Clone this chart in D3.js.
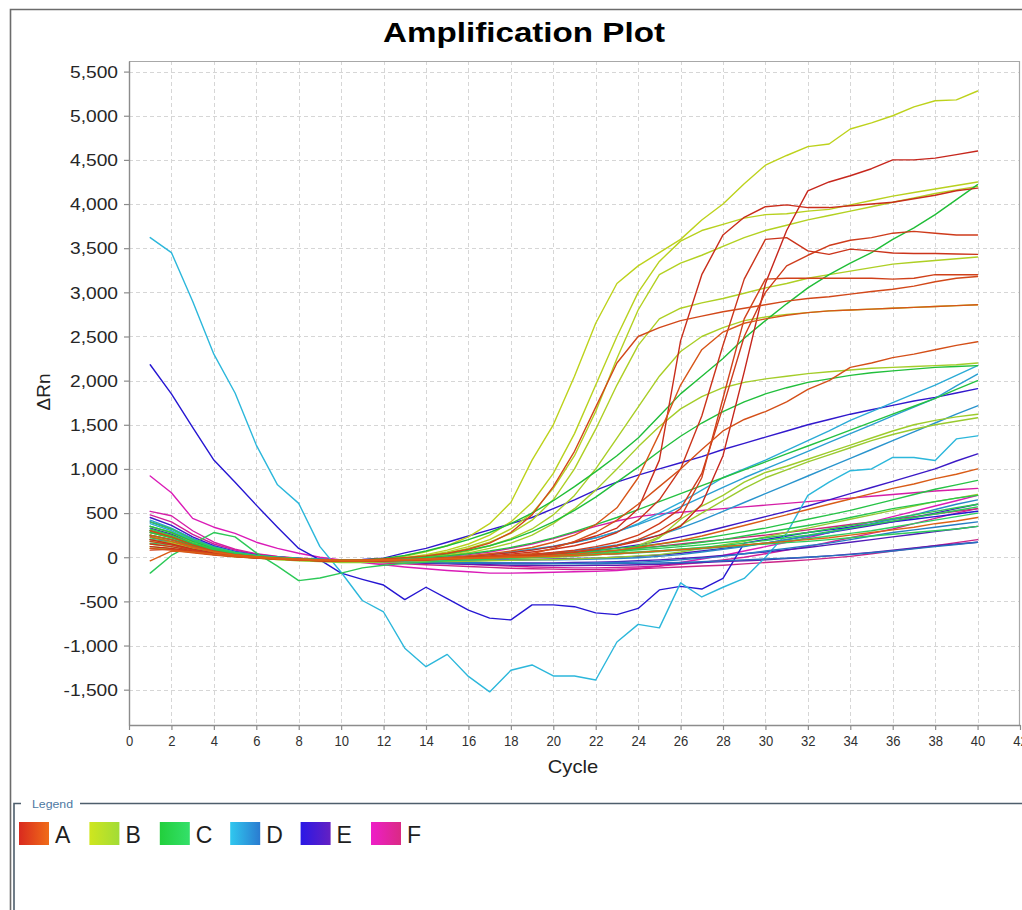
<!DOCTYPE html>
<html>
<head>
<meta charset="utf-8">
<script src="https://cdn.jsdelivr.net/npm/d3@7"></script>
<style>
  body { margin: 0; background: #fff; }
  svg { display: block; font-family: "Liberation Sans", Arial, sans-serif; }
</style>
</head>
<body>
<svg id="chart" width="1022" height="910"></svg>
<script>
// ---------------- data ----------------
const cycles = d3.range(1, 41);          // cycle numbers 1..40
const xTicks = d3.range(0, 43, 2);       // 0,2,...,42
const yTicks = d3.range(-1500, 5501, 500);
const groupNames = ["A", "B", "C", "D", "E", "F"];

// ΔRn per cycle (1..40), one row per well
const wellsA = [
  [120,100,60,30,10,-10,-20,-30,-40,-45,-45,-40, -35,-30,-20,-10,0,10,20,40,60,90,130,180, 250,350,600,1150,2100,3100,3700,4150,4250,4320,4400,4500,4500,4520,4560,4600],
  [200,150,90,50,20,0,-15,-25,-35,-40,-40,-35, -30,-20,-5,10,30,50,80,120,170,240,330,550, 1100,2450,3200,3650,3850,3970,3990,3960,3960,3980,4000,4020,4060,4100,4150,4180],
  [150,120,70,35,10,-5,-20,-30,-40,-45,-45,-40, -35,-25,-15,0,15,35,60,90,130,190,280,420, 650,1000,1600,2400,3150,3600,3620,3470,3430,3490,3470,3445,3440,3440,3435,3430],
  [180,140,80,40,15,0,-15,-25,-35,-40,-40,-35, -30,-25,-15,-5,5,20,35,55,80,120,170,250, 380,550,950,1700,2500,3000,3300,3420,3530,3590,3620,3670,3690,3670,3650,3650],
  [80,90,60,30,10,-5,-20,-30,-40,-45,-45,-40, -35,-30,-20,-10,0,10,25,40,60,90,130,200, 300,450,900,1800,2700,3150,3160,3160,3160,3160,3160,3150,3160,3200,3200,3200],
  [300,230,140,70,30,5,-10,-20,-30,-35,-30,-20, -5,15,45,90,160,280,480,800,1200,1700,2200,2500, 2600,2680,2730,2780,2820,2860,2900,2930,2950,2980,3010,3035,3070,3120,3160,3180],
  [100,80,50,25,5,-10,-20,-30,-35,-40,-40,-35, -30,-25,-15,-5,10,25,40,100,180,280,420,600, 800,1000,1220,1430,1560,1650,1760,1900,2000,2150,2200,2260,2300,2350,2400,2440],
  [250,200,120,60,25,0,-15,-25,-35,-40,-40,-35, -30,-20,-5,15,40,70,110,170,250,370,560,900, 1400,1950,2350,2550,2650,2700,2740,2770,2790,2800,2810,2820,2830,2840,2850,2860],
  [-40,70,60,35,10,-5,-20,-30,-35,-40,-40,-35, -30,-25,-20,-15,-10,0,10,20,35,55,80,110, 150,190,240,300,360,420,480,540,600,660,720,780,830,890,940,1000],
  [230,180,110,60,25,5,-10,-20,-30,-35,-35,-30, -25,-20,-15,-10,-5,0,5,10,20,30,40,55, 70,85,100,120,140,160,180,200,220,250,280,310,340,380,410,450]
];
const wellsB = [
  [250,170,90,40,10,-10,-25,-35,-40,-40,-35,-20, 10,60,130,230,380,620,1100,1500,2050,2650,3100,3300, 3450,3600,3820,4000,4230,4440,4550,4650,4680,4850,4920,5000,5100,5170,5180,5280],
  [350,280,170,90,40,10,-10,-25,-35,-40,-35,-25, -5,30,80,150,250,400,620,950,1400,1950,2500,3000, 3350,3580,3700,3770,3840,3880,3890,3920,3940,3990,4040,4090,4130,4170,4210,4250],
  [300,240,150,80,35,5,-15,-25,-35,-40,-35,-25, -10,20,60,120,200,320,500,780,1150,1650,2250,2800, 3200,3330,3420,3520,3620,3700,3760,3820,3870,3920,3970,4020,4070,4120,4160,4200],
  [280,220,140,75,30,5,-15,-25,-35,-40,-35,-25, -10,15,50,100,170,270,420,650,1000,1450,1950,2400, 2700,2820,2880,2930,2990,3050,3100,3160,3200,3240,3280,3320,3340,3360,3380,3400],
  [200,160,100,55,20,0,-15,-25,-35,-40,-40,-30, -20,0,30,70,130,210,320,480,700,1000,1350,1700, 2050,2330,2500,2600,2680,2720,2750,2770,2790,2800,2810,2820,2830,2840,2850,2860],
  [180,150,90,50,20,0,-15,-25,-35,-40,-40,-30, -20,-5,20,50,100,160,250,380,550,760,1000,1250, 1480,1680,1820,1920,1980,2020,2050,2080,2100,2120,2140,2150,2160,2170,2180,2200],
  [150,120,80,40,15,-5,-20,-30,-40,-45,-45,-40, -35,-30,-25,-20,-15,-10,-5,0,10,25,50,100, 220,430,580,700,850,960,1030,1110,1190,1270,1350,1430,1500,1550,1590,1620],
  [120,100,70,35,10,-5,-20,-30,-40,-45,-45,-40, -35,-30,-25,-20,-15,-10,-5,5,15,35,70,130, 230,360,500,640,780,900,990,1080,1160,1240,1320,1390,1450,1500,1540,1580],
  [100,90,60,30,5,-10,-25,-40,-50,-60,-60,-55, -55,-50,-50,-45,-40,-35,-30,-25,-20,-10,0,15, 30,60,100,140,180,230,280,330,380,430,480,530,580,630,670,710]
];
const wellsC = [
  [300,230,150,90,45,15,-5,-20,-30,-35,-30,-15, 20,70,130,200,280,380,500,640,800,970,1150,1350, 1600,1850,2050,2250,2480,2680,2870,3050,3200,3330,3450,3600,3730,3880,4050,4220],
  [250,200,130,75,35,10,-10,-20,-30,-35,-35,-25, -10,10,40,80,130,200,290,400,530,680,850,1020, 1200,1370,1520,1650,1760,1850,1920,1980,2020,2060,2090,2110,2130,2150,2160,2170],
  [350,280,180,100,50,15,-5,-20,-30,-35,-35,-30, -20,-5,15,40,70,110,160,220,290,370,450,540, 630,720,810,900,990,1080,1170,1260,1350,1440,1530,1620,1710,1800,1900,2000],
  [280,220,140,80,40,10,-10,-20,-30,-35,-35,-30, -25,-20,-10,0,10,20,30,45,60,80,100,125, 150,180,210,250,290,330,380,430,480,530,590,650,710,770,820,870],
  [220,180,120,70,35,10,-10,-20,-30,-35,-35,-30, -25,-20,-15,-5,5,15,25,35,50,65,80,100, 120,140,170,200,240,280,320,360,400,450,500,550,590,630,670,700],
  [320,250,160,90,45,15,-5,-20,-30,-35,-35,-30, -25,-20,-15,-10,0,10,20,30,40,55,70,85, 100,120,140,165,190,220,250,280,320,360,400,440,480,520,560,600],
  [-180,20,150,280,230,50,-100,-265,-235,-180,-120,-90, -70,-55,-40,-30,-20,-10,0,10,20,30,40,55, 70,90,110,130,160,190,220,250,290,330,370,410,450,490,530,570],
  [400,320,200,110,55,20,0,-15,-25,-30,-30,-25, -20,-15,-10,-5,0,5,10,20,30,40,50,60, 75,90,105,120,135,150,165,180,200,220,240,260,280,300,320,350],
  [160,140,90,50,20,0,-15,-25,-35,-40,-40,-35, -30,-25,-20,-15,-10,-5,0,10,20,30,40,50, 65,80,95,115,135,160,185,210,240,270,300,340,380,420,460,500]
];
const wellsD = [
  [3620,3450,2900,2300,1860,1270,820,610,120,-170,-490,-620, -1030,-1240,-1100,-1350,-1525,-1280,-1220,-1345,-1345,-1390,-960,-760, -800,-290,-450,-340,-240,0,270,700,850,980,1000,1130,1130,1095,1340,1375],
  [380,300,190,110,55,20,0,-15,-25,-30,-30,-25, -20,-15,-5,10,30,55,85,120,165,220,290,380, 500,620,760,900,1000,1100,1210,1320,1430,1550,1650,1750,1850,1950,2060,2170],
  [420,330,210,120,60,20,0,-15,-25,-30,-30,-25, -20,-10,0,15,35,60,90,125,170,220,290,370, 460,570,680,790,900,1000,1100,1200,1300,1400,1500,1600,1700,1800,1940,2075],
  [300,240,160,95,45,15,-5,-20,-30,-35,-35,-30, -25,-20,-15,-5,5,15,30,50,75,105,140,190, 250,330,420,520,620,720,820,920,1020,1120,1220,1320,1420,1520,1620,1715],
  [350,280,180,100,50,15,-5,-20,-30,-35,-40,-40, -40,-40,-40,-40,-35,-35,-30,-30,-25,-20,-15,-5, 10,30,60,90,120,160,200,240,280,330,380,430,480,540,600,650],
  [250,200,130,75,35,10,-10,-20,-30,-35,-40,-45, -50,-55,-60,-60,-65,-65,-70,-70,-70,-65,-60,-55, -45,-30,-10,10,40,70,100,130,160,200,240,280,310,340,370,400],
  [200,170,110,65,30,5,-10,-25,-35,-40,-45,-50, -55,-60,-65,-70,-70,-75,-75,-75,-75,-75,-70,-70, -65,-60,-50,-40,-30,-20,-10,0,15,30,50,70,95,120,145,170]
];
const wellsE = [
  [2180,1850,1470,1100,850,590,340,100,-30,-180,-250,-315, -480,-340,-470,-600,-690,-710,-540,-540,-560,-630,-650,-580, -370,-330,-360,-240,160,200,240,280,310,340,370,400,430,460,490,520],
  [400,320,210,120,60,20,0,-15,-25,-30,-25,-10, 50,100,170,240,310,380,450,550,650,760,850,930, 1000,1070,1140,1220,1290,1360,1430,1500,1560,1620,1670,1720,1770,1810,1860,1910],
  [450,360,230,130,65,25,0,-15,-25,-30,-35,-35, -35,-30,-25,-20,-10,0,15,30,50,75,105,140, 180,230,280,340,400,460,520,580,650,720,790,860,930,1000,1090,1170],
  [330,260,170,95,45,15,-5,-20,-30,-35,-40,-40, -40,-40,-35,-35,-30,-30,-25,-20,-15,-10,0,10, 25,45,70,100,130,160,200,240,280,320,360,400,450,500,550,600],
  [280,230,150,85,40,10,-10,-25,-35,-40,-45,-50, -55,-60,-60,-65,-65,-65,-65,-65,-60,-55,-50,-40, -30,-15,0,20,40,60,85,110,140,170,200,230,260,290,320,350],
  [240,200,130,75,35,10,-10,-25,-35,-45,-50,-55, -60,-70,-75,-80,-85,-90,-90,-95,-95,-90,-90,-85, -80,-70,-60,-50,-40,-30,-15,0,15,35,55,80,105,130,150,170]
];
const wellsF = [
  [920,730,440,340,270,170,100,45,0,-30,-60,-85, -110,-130,-150,-165,-180,-180,-175,-170,-165,-160,-150,-130, -100,-60,-20,20,70,120,170,220,280,340,400,460,520,580,640,700],
  [520,470,300,170,90,40,10,-10,-20,-30,-30,-25, -15,-5,10,30,60,100,150,210,280,350,410,460, 490,510,530,550,570,590,610,630,650,670,690,710,730,750,765,780],
  [480,400,260,150,80,35,5,-15,-25,-35,-40,-45, -50,-60,-70,-80,-90,-100,-110,-115,-120,-120,-115,-110, -100,-80,-60,-30,0,40,80,120,170,220,270,320,380,440,500,550],
  [300,250,160,90,45,15,-5,-20,-35,-45,-55,-65, -75,-85,-95,-105,-115,-125,-130,-135,-140,-140,-135,-130, -120,-110,-100,-90,-75,-60,-45,-30,-10,10,40,70,100,130,165,200],
  [200,170,110,60,25,0,-15,-25,-35,-40,-40,-40, -35,-30,-25,-20,-15,-5,5,20,35,55,75,100, 125,150,175,200,225,250,280,310,340,370,400,430,460,490,520,550]
];

// legend swatch gradient ends per group
const groupGradients = {
  A: ["#d92a1f", "#f06c18"],
  B: ["#cfe61e", "#a2dc36"],
  C: ["#22cf3c", "#34e06a"],
  D: ["#30c8ef", "#2a7bd0"],
  E: ["#2a18e6", "#6420c2"],
  F: ["#ee1ec8", "#da2a84"]
};
const wellsByGroup = { A: wellsA, B: wellsB, C: wellsC, D: wellsD, E: wellsE, F: wellsF };

// ---------------- layout ----------------
const svg = d3.select("#chart");
const plot = { left: 129, right: 1020, top: 61, bottom: 725 };

const x = d3.scaleLinear().domain([0, 42]).range([plot.left, plot.right]);
const y = d3.scaleLinear().domain([-1900, 5620]).range([plot.bottom, plot.top]);

// page frame
svg.append("rect").attr("width", 1022).attr("height", 910).attr("fill", "#fff");
svg.append("path")
  .attr("d", "M10.5,910 V9.5 H1022")
  .attr("fill", "none").attr("stroke", "#6b6b6b").attr("stroke-width", 1.6);

// grid
const grid = svg.append("g").attr("stroke", "#d6d6d6").attr("stroke-width", 1).attr("stroke-dasharray", "4,3");
grid.selectAll(".gy").data(yTicks).join("line")
  .attr("x1", plot.left).attr("x2", plot.right)
  .attr("y1", d => Math.round(y(d)) + 0.5).attr("y2", d => Math.round(y(d)) + 0.5);
grid.selectAll(".gx").data(xTicks.filter(d => d > 0 && d < 42)).join("line")
  .attr("y1", plot.top).attr("y2", plot.bottom)
  .attr("x1", d => Math.round(x(d)) + 0.5).attr("x2", d => Math.round(x(d)) + 0.5);

// plot frame (top / right)
svg.append("path")
  .attr("d", `M${plot.left},${plot.top + 0.5} H${plot.right - 0.5} V${plot.bottom}`)
  .attr("fill", "none").attr("stroke", "#a8a8a8").attr("stroke-width", 1.2);

// curves
const line = d3.line()
  .x((d, i) => x(cycles[i]))
  .y(d => y(d))
  .curve(d3.curveLinear);

const curvesG = svg.append("g")
  .attr("fill", "none").attr("stroke-width", 1.4)
  .attr("stroke-linejoin", "round").attr("stroke-linecap", "round");

["F", "E", "D", "B", "C", "A"].forEach(g => {
  const rows = wellsByGroup[g];
  const col = d3.interpolateRgb(groupGradients[g][0], groupGradients[g][1]);
  curvesG.append("g").selectAll("path").data(rows).join("path")
    .attr("d", line)
    .attr("stroke", (d, i) => d3.color(col(rows.length > 1 ? i / (rows.length - 1) : 0)).darker(0.25));
});

// axes
const tickFont = "\"Liberation Sans\", Arial, sans-serif";
const fmtY = d => d3.format(",")(d).replace("\u2212", "-");
const yAxis = svg.append("g").attr("transform", `translate(${plot.left},0)`)
  .call(d3.axisLeft(y).tickValues(yTicks).tickFormat(fmtY).tickSize(5).tickSizeOuter(0));
yAxis.select(".domain").attr("stroke", "#8c8c8c").attr("stroke-width", 1.4);
yAxis.selectAll(".tick line").attr("stroke", "#8c8c8c").attr("stroke-width", 1.2);
yAxis.selectAll(".tick text")
  .attr("font-family", tickFont).attr("font-size", 16).attr("fill", "#262626")
  .attr("x", -9.2).attr("dy", "0.36em")
  .attr("transform", "scale(1.2,1)");

const xAxis = svg.append("g").attr("transform", `translate(0,${plot.bottom})`)
  .call(d3.axisBottom(x).tickValues(xTicks).tickSize(5).tickSizeOuter(0));
xAxis.select(".domain").attr("stroke", "#8c8c8c").attr("stroke-width", 1.4);
xAxis.selectAll(".tick line").attr("stroke", "#8c8c8c").attr("stroke-width", 1.2);
xAxis.selectAll(".tick text")
  .attr("font-family", tickFont).attr("font-size", 14.5).attr("fill", "#303030")
  .attr("x", 0).attr("y", 10.5).attr("dy", "0.71em")
  .attr("transform", "scale(0.9,1)");

// titles
svg.append("text")
  .attr("transform", "translate(524,42) scale(1.185,1)")
  .attr("text-anchor", "middle")
  .attr("font-family", tickFont).attr("font-weight", "bold").attr("font-size", 28)
  .attr("fill", "#000").text("Amplification Plot");

svg.append("text")
  .attr("transform", "translate(50,392) rotate(-90)")
  .attr("text-anchor", "middle")
  .attr("font-family", tickFont).attr("font-size", 19).attr("fill", "#222")
  .text("ΔRn");

svg.append("text")
  .attr("transform", "translate(573,773) scale(1.12,1)")
  .attr("text-anchor", "middle")
  .attr("font-family", tickFont).attr("font-size", 18).attr("fill", "#222")
  .text("Cycle");

// legend box
const legend = svg.append("g");
legend.append("path")
  .attr("d", "M14,910 V803.5 H21 M80,803.5 H1022")
  .attr("fill", "none").attr("stroke", "#4e5e6c").attr("stroke-width", 1.6);
legend.append("text")
  .attr("transform", "translate(32,808) scale(1.12,1)")
  .attr("font-family", tickFont).attr("font-size", 11).attr("fill", "#4d78a2")
  .text("Legend");

const defs = svg.append("defs");
groupNames.forEach(g => {
  const lg = defs.append("linearGradient").attr("id", "grad" + g)
    .attr("x1", "0%").attr("x2", "100%").attr("y1", "0%").attr("y2", "0%");
  lg.append("stop").attr("offset", "0%").attr("stop-color", groupGradients[g][0]);
  lg.append("stop").attr("offset", "100%").attr("stop-color", groupGradients[g][1]);
});

const legendX = d3.scalePoint().domain(groupNames).range([19, 371]);
const items = legend.selectAll(".item").data(groupNames).join("g")
  .attr("transform", d => `translate(${legendX(d)},822)`);
items.append("rect").attr("width", 30).attr("height", 23)
  .attr("fill", d => `url(#grad${d})`);
items.append("text").attr("x", 36).attr("y", 21)
  .attr("font-family", tickFont).attr("font-size", 23).attr("fill", "#1e1e1e")
  .text(d => d);
</script>
</body>
</html>
